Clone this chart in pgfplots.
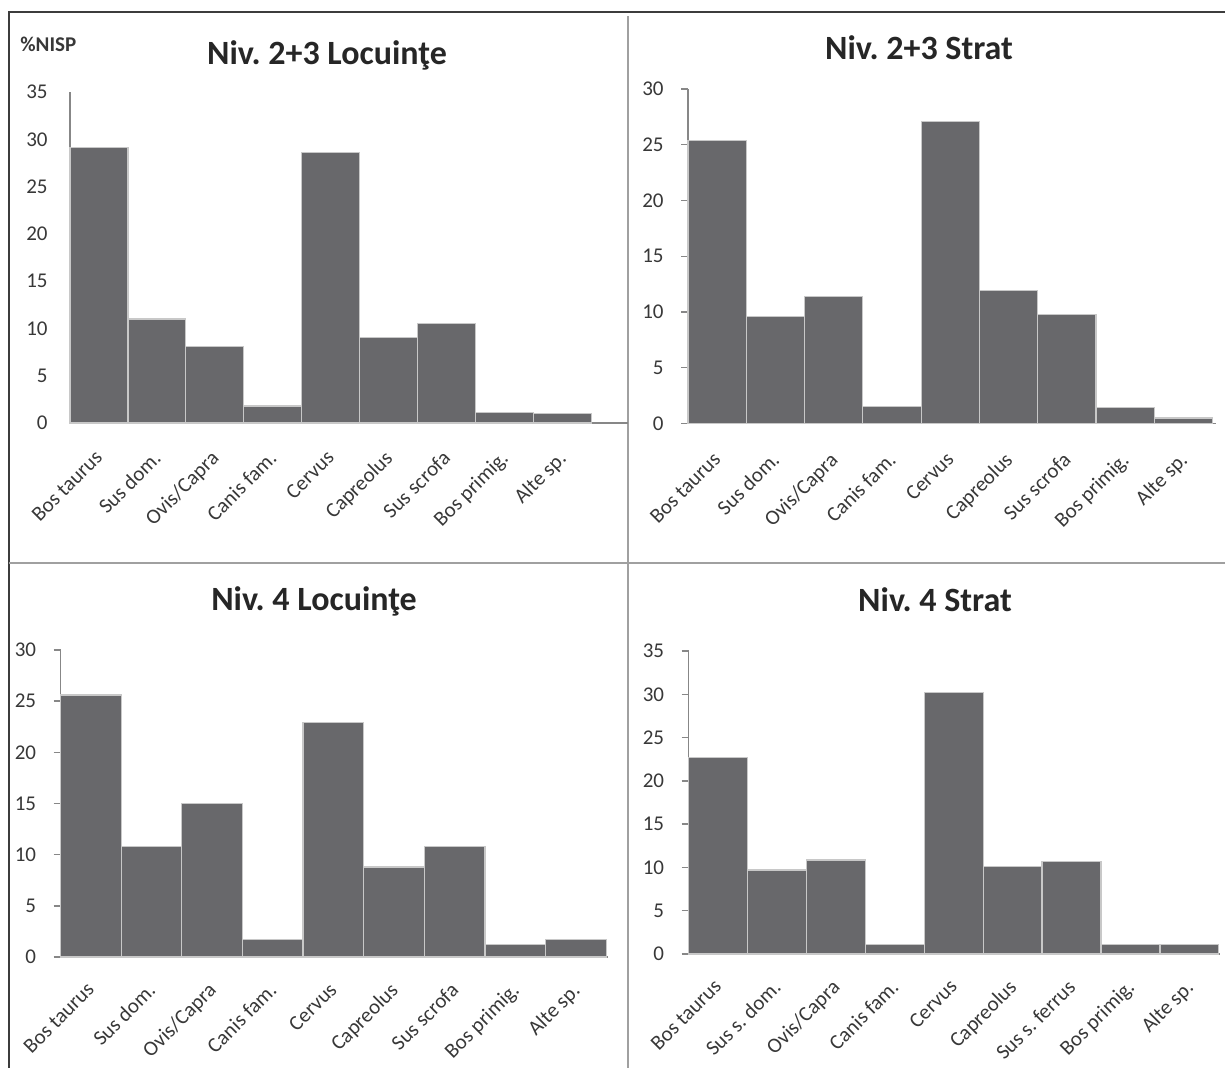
\documentclass[border=0pt]{standalone}
\usepackage{pgfplots}
\pgfplotsset{compat=1.18}
\usepackage{fontspec}
\setmainfont{Carlito}
\frenchspacing

\definecolor{barfill}{RGB}{104,104,107}
\definecolor{baredge}{RGB}{200,200,200}
\definecolor{axisgray}{RGB}{135,135,135}
\definecolor{titlecol}{RGB}{38,38,38}
\definecolor{labelcol}{RGB}{56,56,56}
\definecolor{framecol}{RGB}{60,60,60}
\definecolor{dividercol}{RGB}{160,160,160}

% Shares of NISP (%) per taxon, one table per context
\pgfplotstableread{
x   y
0.5 29.1
1.5 11.0
2.5 8.1
3.5 1.8
4.5 28.6
5.5 9.0
6.5 10.5
7.5 1.1
8.5 1.0
}\nivTwoLoc
\pgfplotstableread{
x   y
0.5 25.4
1.5 9.6
2.5 11.4
3.5 1.5
4.5 27.1
5.5 11.9
6.5 9.75
7.5 1.4
8.5 0.5
}\nivTwoStrat
\pgfplotstableread{
x   y
0.5 25.6
1.5 10.8
2.5 15.0
3.5 1.7
4.5 22.9
5.5 8.8
6.5 10.8
7.5 1.2
8.5 1.7
}\nivFourLoc
\pgfplotstableread{
x   y
0.5 22.7
1.5 9.7
2.5 10.85
3.5 1.07
4.5 30.2
5.5 10.1
6.5 10.65
7.5 1.07
8.5 1.07
}\nivFourStrat

\pgfplotsset{
  panel/.style={
    scale only axis,
    anchor=south west,
    ybar, bar width=1, bar shift=0pt,
    xmin=0, ymin=0,
    enlargelimits=false,
    axis x line=bottom, axis y line=left,
    axis line style={-, draw=axisgray, line width=0.7pt},
    tick style={draw=axisgray, line width=0.7pt},
    tick align=outside,
    major tick length=3.5pt,
    minor tick length=3.5pt,
    xtick={0.5,1.5,...,8.5},
    x tick style={draw=none},
    minor xtick={0,1,...,9},
    ytick distance=5,
    /pgf/number format/assume math mode=true,
    yticklabel style={font=\fontsize{10.5}{12}\selectfont, text=labelcol, anchor=east, inner sep=0pt},
    xticklabel style={font=\fontsize{10.5}{12}\selectfont, text=labelcol, rotate=45, anchor=north east, inner sep=0pt, xshift=-1.8pt, yshift=1.8pt},
    yticklabel shift=8.5pt,
    xticklabel shift=10pt,
    clip=false,
  },
  bars/.style={fill=barfill, draw=baredge, line width=0.6pt},
}

\newcommand{\names}{Bos taurus,Sus dom.,Ovis/Capra,Canis fam.,Cervus,Capreolus,Sus scrofa,Bos primig.,Alte sp.}

\begin{document}
\begin{tikzpicture}[x=0.5pt, y=0.5pt]
  \useasboundingbox (0,0) rectangle (1225,1068);

  % frame and dividers
  \draw[framecol, line width=0.8pt] (9,0) -- (9,1056) -- (1225,1056);
  \draw[dividercol, line width=0.8pt] (628,0) -- (628,1052);
  \draw[dividercol, line width=0.8pt] (9,505) -- (1225,505);

  % titles
  \node[anchor=base, font=\bfseries\fontsize{17}{20}\selectfont, text=titlecol] at (327,1003) {Niv. 2+3 Locuinţe};
  \node[anchor=base, font=\bfseries\fontsize{17}{20}\selectfont, text=titlecol] at (919,1008) {Niv. 2+3 Strat};
  \node[anchor=base, font=\bfseries\fontsize{17}{20}\selectfont, text=titlecol] at (314,457) {Niv. 4 Locuinţe};
  \node[anchor=base, font=\bfseries\fontsize{17}{20}\selectfont, text=titlecol] at (935,456) {Niv. 4 Strat};
  \node[anchor=base west, font=\bfseries\fontsize{10.5}{12}\selectfont, text=labelcol, inner sep=0pt] at (20,1016) {\%NISP};

  % Niv. 2+3, dwellings
  \begin{axis}[panel, at={(35pt,322.5pt)},
      width=279pt, height=165.5pt, xmax=9.637, ymax=35,
      minor xtick={}, major tick length=0pt,
      yticklabel shift=11pt,
      xticklabel shift=13pt,
      xticklabels/.expanded={\names}]
    \addplot[bars] table[x=x, y=y] {\nivTwoLoc};
  \end{axis}

  % Niv. 2+3, layer
  \begin{axis}[panel, at={(344pt,322.25pt)},
      width=264pt, height=167.25pt, xmax=9.06, ymax=30,
      xticklabels/.expanded={\names}]
    \addplot[bars] table[x=x, y=y] {\nivTwoStrat};
  \end{axis}

  % Niv. 4, dwellings
  \begin{axis}[panel, at={(30.25pt,55.5pt)},
      width=273.75pt, height=153.5pt, xmax=9.03, ymax=30,
      xticklabel shift=8.5pt,
      xticklabels/.expanded={\names}]
    \addplot[bars] table[x=x, y=y] {\nivFourLoc};
  \end{axis}

  % Niv. 4, layer
  \begin{axis}[panel, at={(344.25pt,57pt)},
      width=265.75pt, height=151.5pt, xmax=9.02, ymax=35,
      xticklabel shift=8.5pt,
      xticklabels={Bos taurus,Sus s. dom.,Ovis/Capra,Canis fam.,Cervus,Capreolus,Sus s. ferrus,Bos primig.,Alte sp.}]
    \addplot[bars] table[x=x, y=y] {\nivFourStrat};
  \end{axis}
\end{tikzpicture}
\end{document}
